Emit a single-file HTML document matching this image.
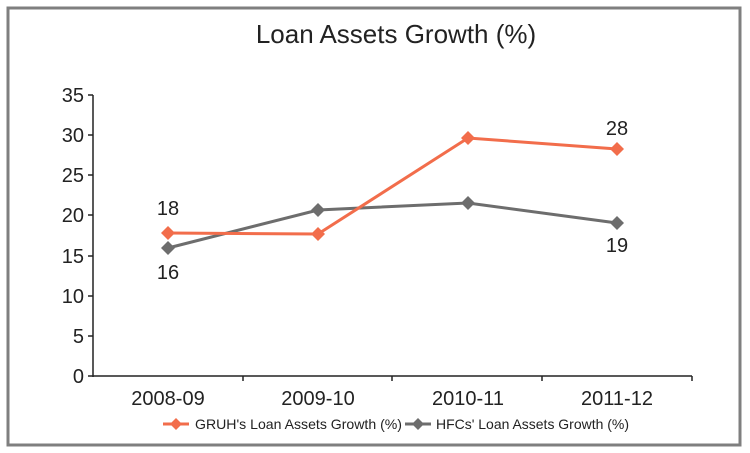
<!DOCTYPE html>
<html><head><style>
body{margin:0;background:#fff;}
svg{display:block;font-family:"Liberation Sans","DejaVu Sans",sans-serif;}
</style></head><body>
<svg width="750" height="453" viewBox="0 0 750 453">
<rect x="8" y="8" width="732" height="437" fill="#fff" stroke="#7f7f7f" stroke-width="3"/>
<text x="396" y="43" font-size="26" text-anchor="middle" fill="#222">Loan Assets Growth (%)</text>
<g stroke="#222" stroke-width="1.5">
<line x1="93" y1="95" x2="93" y2="377"/>
<line x1="93" y1="376" x2="692" y2="376"/>
<line x1="88" y1="95" x2="93" y2="95"/><line x1="88" y1="135" x2="93" y2="135"/>
<line x1="88" y1="175" x2="93" y2="175"/><line x1="88" y1="215" x2="93" y2="215"/>
<line x1="88" y1="256" x2="93" y2="256"/><line x1="88" y1="296" x2="93" y2="296"/>
<line x1="88" y1="336" x2="93" y2="336"/><line x1="88" y1="376" x2="93" y2="376"/>
<line x1="243" y1="376" x2="243" y2="381"/><line x1="392" y1="376" x2="392" y2="381"/>
<line x1="542" y1="376" x2="542" y2="381"/><line x1="692" y1="376" x2="692" y2="381"/>
</g>
<g font-size="20" fill="#222" text-anchor="end">
<text x="84" y="102">35</text><text x="84" y="142">30</text><text x="84" y="182">25</text>
<text x="84" y="222">20</text><text x="84" y="263">15</text><text x="84" y="303">10</text>
<text x="84" y="343">5</text><text x="84" y="383">0</text>
</g>
<g font-size="20" fill="#222" text-anchor="middle">
<text x="168" y="405">2008-09</text><text x="318" y="405">2009-10</text>
<text x="468" y="405">2010-11</text><text x="617" y="405">2011-12</text>
<text x="168" y="215">18</text><text x="168" y="279">16</text>
<text x="617" y="135">28</text><text x="617" y="252">19</text>
</g>
<polyline points="168,248 318,210 468,203 617,223" fill="none" stroke="#6d6d6d" stroke-width="3"/>
<polyline points="168,233 318,234 468,138 617,149" fill="none" stroke="#f26d4b" stroke-width="3"/>
<g fill="#6d6d6d">
<path d="M168,241 l7,7 l-7,7 l-7,-7z"/><path d="M318,203 l7,7 l-7,7 l-7,-7z"/>
<path d="M468,196 l7,7 l-7,7 l-7,-7z"/><path d="M617,216 l7,7 l-7,7 l-7,-7z"/>
</g>
<g fill="#f26d4b">
<path d="M168,226 l7,7 l-7,7 l-7,-7z"/><path d="M318,227 l7,7 l-7,7 l-7,-7z"/>
<path d="M468,131 l7,7 l-7,7 l-7,-7z"/><path d="M617,142 l7,7 l-7,7 l-7,-7z"/>
</g>
<line x1="163" y1="424" x2="189" y2="424" stroke="#f26d4b" stroke-width="3"/>
<path d="M176,418 l6,6 l-6,6 l-6,-6z" fill="#f26d4b"/>
<line x1="405" y1="424" x2="431" y2="424" stroke="#6d6d6d" stroke-width="3"/>
<path d="M418,418 l6,6 l-6,6 l-6,-6z" fill="#6d6d6d"/>
<g font-size="14" fill="#222">
<text x="195" y="429" textLength="207" lengthAdjust="spacingAndGlyphs">GRUH's Loan Assets Growth (%)</text>
<text x="436" y="429" textLength="193" lengthAdjust="spacingAndGlyphs">HFCs' Loan Assets Growth (%)</text>
</g>
</svg>
</body></html>
